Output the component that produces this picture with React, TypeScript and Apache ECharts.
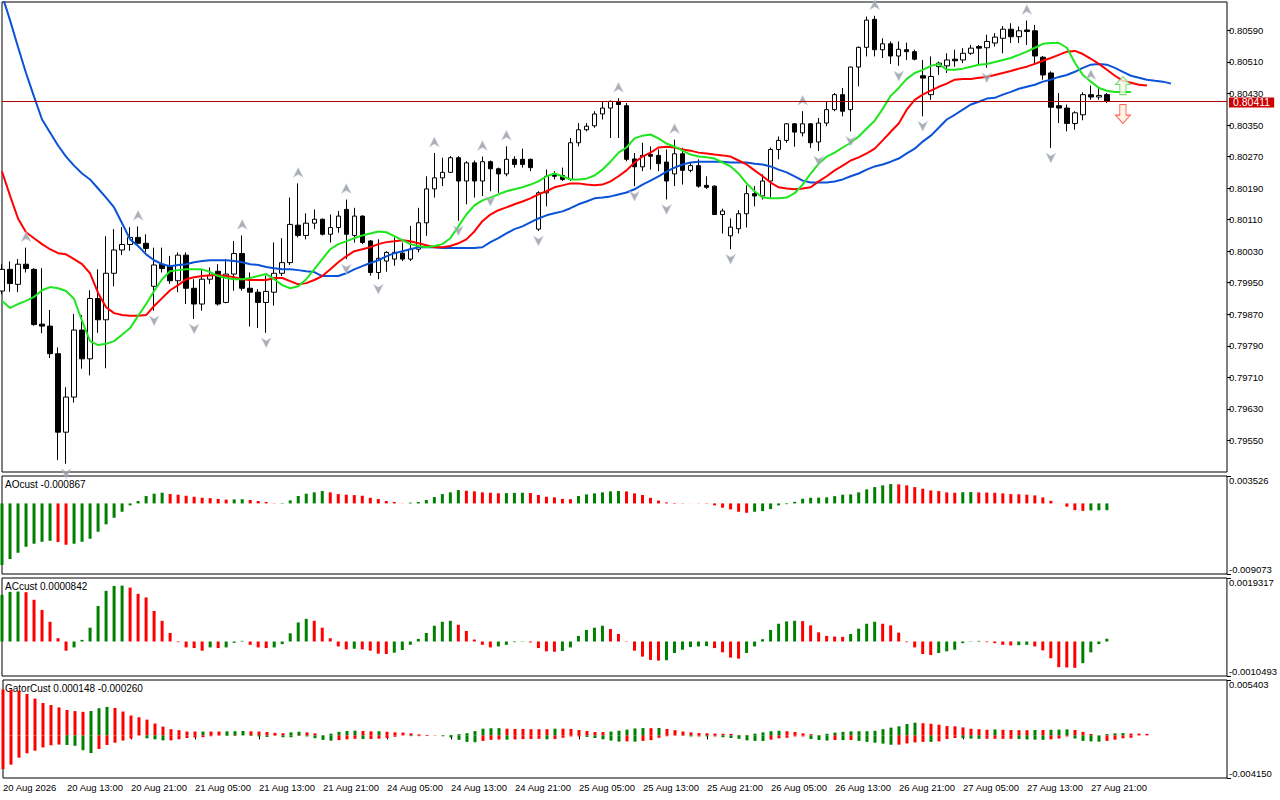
import React, { useEffect, useRef } from "react";
import * as echarts from "echarts";

const FONT = "Liberation Sans, Arial, sans-serif";

// ---- x axis ----
const barDays = ["20", "21", "24", "25", "26", "27", "28"];
const xTickLabels = [
  "20 Aug 2026", "20 Aug 13:00", "20 Aug 21:00", "21 Aug 05:00", "21 Aug 13:00", "21 Aug 21:00",
  "24 Aug 05:00", "24 Aug 13:00", "24 Aug 21:00", "25 Aug 05:00", "25 Aug 13:00", "25 Aug 21:00",
  "26 Aug 05:00", "26 Aug 13:00", "26 Aug 21:00", "27 Aug 05:00", "27 Aug 13:00", "27 Aug 21:00",
];
const TOTAL_SLOTS = 154;

// ---- price (hourly candles) ----
const opens = [
  0.79929,0.79984,0.79946,0.79997,0.79984,0.79845,0.79840,0.79770,0.79571,0.79660,
  0.79830,0.79757,0.79910,0.79856,0.79974,0.80033,0.80047,0.80065,0.80050,0.79941,
  0.79997,0.79993,0.79955,0.80020,0.79936,0.79896,0.79959,0.79979,0.79900,0.79972,
  0.80024,0.79936,0.79926,0.79900,0.79926,0.79974,0.80001,0.80096,0.80070,0.80101,
  0.80111,0.80073,0.80090,0.80136,0.80070,0.80119,0.80056,0.79976,0.80005,0.80010,
  0.80025,0.80010,0.80035,0.80102,0.80188,0.80216,0.80230,0.80267,0.80208,0.80254,
  0.80208,0.80257,0.80239,0.80226,0.80263,0.80263,0.80263,0.80086,0.80178,0.80225,
  0.80222,0.80212,0.80305,0.80338,0.80348,0.80378,0.80393,0.80410,0.80399,0.80264,
  0.80244,0.80275,0.80273,0.80256,0.80226,0.80277,0.80235,0.80247,0.80197,0.80195,
  0.80123,0.80069,0.80087,0.80125,0.80176,0.80170,0.80208,0.80288,0.80311,0.80353,
  0.80330,0.80353,0.80307,0.80355,0.80389,0.80427,0.80389,0.80497,0.80547,0.80618,
  0.80541,0.80556,0.80525,0.80541,0.80536,0.80475,0.80427,0.80498,0.80500,0.80517,
  0.80515,0.80532,0.80549,0.80546,0.80558,0.80570,0.80593,0.80574,0.80591,0.80589,
  0.80522,0.80482,0.80399,0.80393,0.80354,0.80376,0.80427,0.80421,0.80427,
];
const closes = [
  0.79984,0.79948,0.79997,0.79986,0.79844,0.79840,0.79770,0.79571,0.79660,0.79830,
  0.79757,0.79910,0.79856,0.79974,0.80033,0.80047,0.80065,0.80050,0.80037,0.79995,
  0.79986,0.79955,0.80020,0.79936,0.79896,0.79959,0.79968,0.79896,0.79972,0.80024,
  0.79936,0.79926,0.79900,0.79928,0.79974,0.80001,0.80098,0.80070,0.80101,0.80111,
  0.80073,0.80090,0.80119,0.80073,0.80119,0.80052,0.79976,0.80012,0.80027,0.80027,
  0.80010,0.80035,0.80102,0.80188,0.80216,0.80230,0.80267,0.80208,0.80254,0.80208,
  0.80257,0.80239,0.80226,0.80263,0.80250,0.80250,0.80242,0.80178,0.80220,0.80220,
  0.80212,0.80305,0.80338,0.80347,0.80378,0.80393,0.80410,0.80402,0.80263,0.80244,
  0.80273,0.80271,0.80252,0.80208,0.80277,0.80235,0.80247,0.80195,0.80192,0.80123,
  0.80132,0.80091,0.80125,0.80176,0.80170,0.80208,0.80288,0.80311,0.80353,0.80332,
  0.80353,0.80305,0.80355,0.80389,0.80427,0.80385,0.80497,0.80547,0.80616,0.80541,
  0.80556,0.80525,0.80542,0.80536,0.80517,0.80469,0.80473,0.80507,0.80515,0.80513,
  0.80532,0.80545,0.80545,0.80562,0.80573,0.80593,0.80574,0.80589,0.80587,0.80525,
  0.80477,0.80395,0.80393,0.80354,0.80381,0.80427,0.80421,0.80425,0.80411,
];
const lows = [
  0.79921,0.79927,0.79926,0.79976,0.79841,0.79822,0.79759,0.79500,0.79491,0.79646,
  0.79732,0.79715,0.79823,0.79733,0.79941,0.80020,0.80031,0.80048,0.80027,0.79879,
  0.79976,0.79947,0.79926,0.79896,0.79858,0.79879,0.79947,0.79892,0.79898,0.79930,
  0.79930,0.79839,0.79835,0.79823,0.79892,0.79967,0.79995,0.80065,0.80060,0.80086,
  0.80070,0.80052,0.80077,0.80010,0.80052,0.80048,0.79968,0.79959,0.79978,0.79993,
  0.80005,0.80005,0.80027,0.80069,0.80166,0.80195,0.80229,0.80107,0.80149,0.80166,
  0.80170,0.80182,0.80178,0.80220,0.80242,0.80242,0.80233,0.80081,0.80144,0.80212,
  0.80208,0.80208,0.80296,0.80334,0.80343,0.80364,0.80317,0.80317,0.80258,0.80195,
  0.80233,0.80237,0.80233,0.80161,0.80195,0.80199,0.80230,0.80191,0.80188,0.80123,
  0.80075,0.80035,0.80075,0.80090,0.80144,0.80161,0.80166,0.80263,0.80305,0.80295,
  0.80321,0.80292,0.80284,0.80347,0.80385,0.80372,0.80334,0.80448,0.80524,0.80524,
  0.80520,0.80505,0.80500,0.80515,0.80514,0.80372,0.80414,0.80477,0.80482,0.80498,
  0.80507,0.80528,0.80503,0.80495,0.80549,0.80532,0.80558,0.80558,0.80553,0.80503,
  0.80465,0.80292,0.80355,0.80334,0.80338,0.80362,0.80414,0.80414,0.80406,
];
const highs = [
  0.79997,0.80004,0.80010,0.80039,0.79987,0.79987,0.79881,0.79786,0.79685,0.79871,
  0.79868,0.79931,0.79984,0.80068,0.80086,0.80091,0.80091,0.80093,0.80073,0.80039,
  0.80039,0.80018,0.80027,0.80027,0.79959,0.79984,0.79989,0.79997,0.80010,0.80056,
  0.80070,0.79976,0.79934,0.79968,0.80052,0.80063,0.80166,0.80202,0.80126,0.80136,
  0.80113,0.80123,0.80132,0.80161,0.80140,0.80121,0.80058,0.80060,0.80030,0.80065,
  0.80052,0.80094,0.80140,0.80220,0.80279,0.80267,0.80271,0.80271,0.80258,0.80260,
  0.80270,0.80260,0.80242,0.80296,0.80271,0.80290,0.80265,0.80182,0.80237,0.80233,
  0.80242,0.80317,0.80355,0.80355,0.80385,0.80410,0.80412,0.80418,0.80406,0.80279,
  0.80305,0.80296,0.80288,0.80288,0.80313,0.80292,0.80254,0.80263,0.80220,0.80197,
  0.80138,0.80113,0.80134,0.80197,0.80195,0.80225,0.80293,0.80321,0.80355,0.80355,
  0.80385,0.80355,0.80368,0.80410,0.80431,0.80444,0.80498,0.80549,0.80625,0.80627,
  0.80570,0.80562,0.80562,0.80559,0.80541,0.80515,0.80524,0.80511,0.80532,0.80541,
  0.80545,0.80553,0.80553,0.80579,0.80583,0.80601,0.80608,0.80600,0.80615,0.80604,
  0.80525,0.80486,0.80431,0.80402,0.80385,0.80433,0.80450,0.80444,0.80431,
];

// ---- Alligator (as drawn, already shifted) ----
const jaw = [
  0.80680,0.80616,0.80548,0.80482,0.80422,0.80364,0.80331,0.80298,0.80270,0.80247,
  0.80227,0.80212,0.80189,0.80166,0.80141,0.80101,0.80060,0.80043,0.80022,0.80007,
  0.79997,0.79992,0.79995,0.79997,0.80002,0.80005,0.80007,0.80007,0.80007,0.80005,
  0.80002,0.79997,0.79995,0.79990,0.79987,0.79984,0.79984,0.79982,0.79979,0.79977,
  0.79967,0.79967,0.79967,0.79974,0.79984,0.79992,0.80000,0.80007,0.80017,0.80025,
  0.80030,0.80035,0.80040,0.80040,0.80040,0.80038,0.80038,0.80038,0.80038,0.80038,
  0.80040,0.80053,0.80063,0.80075,0.80086,0.80093,0.80103,0.80113,0.80121,0.80126,
  0.80131,0.80139,0.80149,0.80156,0.80164,0.80166,0.80169,0.80174,0.80179,0.80187,
  0.80199,0.80209,0.80220,0.80232,0.80242,0.80250,0.80255,0.80257,0.80257,0.80257,
  0.80257,0.80255,0.80255,0.80255,0.80252,0.80250,0.80245,0.80237,0.80230,0.80220,
  0.80209,0.80204,0.80204,0.80204,0.80207,0.80212,0.80220,0.80227,0.80237,0.80245,
  0.80250,0.80257,0.80265,0.80278,0.80290,0.80308,0.80323,0.80343,0.80364,0.80376,
  0.80389,0.80402,0.80409,0.80417,0.80419,0.80427,0.80434,0.80442,0.80447,0.80452,
  0.80460,0.80465,0.80472,0.80477,0.80485,0.80495,0.80503,0.80505,0.80503,0.80495,
  0.80485,0.80475,0.80470,0.80465,0.80462,0.80460,0.80455,
];
const teeth = [
  0.80232,0.80171,0.80113,0.80078,0.80063,0.80048,0.80035,0.80025,0.80022,0.80010,
  0.79997,0.79974,0.79924,0.79888,0.79873,0.79868,0.79866,0.79866,0.79868,0.79891,
  0.79911,0.79931,0.79944,0.79959,0.79964,0.79967,0.79969,0.79969,0.79967,0.79964,
  0.79959,0.79957,0.79957,0.79957,0.79962,0.79962,0.79954,0.79946,0.79949,0.79957,
  0.79967,0.79984,0.80002,0.80017,0.80030,0.80035,0.80040,0.80048,0.80053,0.80055,
  0.80058,0.80055,0.80050,0.80045,0.80040,0.80040,0.80043,0.80050,0.80060,0.80080,
  0.80106,0.80123,0.80134,0.80141,0.80149,0.80156,0.80164,0.80174,0.80182,0.80192,
  0.80197,0.80202,0.80202,0.80199,0.80197,0.80199,0.80207,0.80220,0.80235,0.80255,
  0.80270,0.80280,0.80293,0.80295,0.80293,0.80288,0.80285,0.80280,0.80278,0.80275,
  0.80273,0.80270,0.80260,0.80250,0.80235,0.80220,0.80204,0.80192,0.80189,0.80187,
  0.80189,0.80192,0.80207,0.80220,0.80235,0.80247,0.80260,0.80268,0.80278,0.80290,
  0.80311,0.80333,0.80354,0.80389,0.80414,0.80427,0.80437,0.80447,0.80455,0.80465,
  0.80467,0.80467,0.80470,0.80472,0.80477,0.80482,0.80487,0.80493,0.80498,0.80505,
  0.80513,0.80520,0.80528,0.80536,0.80538,0.80530,0.80518,0.80505,0.80490,0.80475,
  0.80462,0.80457,0.80452,0.80450,
];
const lips = [
  0.79904,0.79886,0.79896,0.79904,0.79914,0.79931,0.79939,0.79936,0.79929,0.79909,
  0.79853,0.79802,0.79792,0.79795,0.79802,0.79818,0.79835,0.79866,0.79896,0.79929,
  0.79959,0.79979,0.79982,0.79984,0.79984,0.79984,0.79977,0.79967,0.79962,0.79959,
  0.79959,0.79962,0.79967,0.79972,0.79959,0.79944,0.79936,0.79941,0.79959,0.79984,
  0.80010,0.80035,0.80048,0.80055,0.80063,0.80070,0.80075,0.80080,0.80078,0.80068,
  0.80058,0.80048,0.80043,0.80040,0.80043,0.80048,0.80063,0.80093,0.80123,0.80146,
  0.80159,0.80166,0.80174,0.80182,0.80187,0.80192,0.80199,0.80207,0.80220,0.80227,
  0.80220,0.80212,0.80212,0.80214,0.80222,0.80237,0.80257,0.80280,0.80293,0.80316,
  0.80323,0.80326,0.80316,0.80303,0.80295,0.80285,0.80275,0.80270,0.80268,0.80265,
  0.80255,0.80245,0.80227,0.80202,0.80182,0.80166,0.80164,0.80164,0.80166,0.80177,
  0.80199,0.80227,0.80252,0.80270,0.80280,0.80293,0.80305,0.80321,0.80341,0.80361,
  0.80391,0.80424,0.80444,0.80467,0.80482,0.80490,0.80500,0.80505,0.80490,0.80490,
  0.80493,0.80498,0.80503,0.80505,0.80510,0.80515,0.80520,0.80528,0.80536,0.80546,
  0.80556,0.80558,0.80558,0.80546,0.80508,0.80477,0.80460,0.80444,0.80437,0.80434,
  0.80434,0.80434,
];

const upFractals = [3, 17, 30, 37, 43, 54, 60, 63, 77, 84, 100, 109, 128, 136];
const downFractals = [8, 19, 24, 33, 43, 47, 57, 61, 67, 79, 83, 91, 102, 106, 112, 115, 123, 131];

const lastPrice = 0.80411;
const buySignal = [140, 0.8045];
const sellSignal = [140, 0.80378];

const priceTicks = [
  0.7955, 0.7963, 0.7971, 0.7979, 0.7987, 0.7995, 0.8003,
  0.8011, 0.8019, 0.8027, 0.8035, 0.8043, 0.8051, 0.8059,
];
const priceMin = 0.7947;
const priceMax = 0.80662;

// ---- Awesome oscillator ----
const ao = [
  -0.00792,-0.00715,-0.00634,-0.00557,-0.00518,-0.00493,-0.00480,-0.00496,-0.00531,-0.00518,
  -0.00493,-0.00454,-0.00364,-0.00269,-0.00184,-0.00107,-0.00025,0.00031,0.00095,0.00125,
  0.00138,0.00121,0.00112,0.00099,0.00086,0.00073,0.00068,0.00057,0.00049,0.00052,
  0.00054,0.00044,0.00031,0.00018,-0.00003,0.00005,0.00039,0.00096,0.00125,0.00142,
  0.00159,0.00142,0.00120,0.00112,0.00107,0.00099,0.00073,0.00056,0.00031,0.00018,
  -0.00002,0.00010,0.00018,0.00044,0.00082,0.00120,0.00142,0.00172,0.00163,0.00155,
  0.00142,0.00137,0.00131,0.00133,0.00135,0.00137,0.00134,0.00108,0.00086,0.00078,
  0.00058,0.00055,0.00095,0.00116,0.00129,0.00142,0.00155,0.00160,0.00154,0.00129,
  0.00108,0.00072,0.00036,0.00013,0.00006,0.00003,0.00001,-0.00002,-0.00004,-0.00025,
  -0.00055,-0.00077,-0.00107,-0.00120,-0.00107,-0.00098,-0.00073,-0.00025,-0.00009,0.00021,
  0.00060,0.00073,0.00075,0.00078,0.00094,0.00112,0.00116,0.00142,0.00180,0.00210,
  0.00232,0.00249,0.00245,0.00232,0.00210,0.00189,0.00167,0.00159,0.00142,0.00137,
  0.00144,0.00146,0.00142,0.00140,0.00137,0.00129,0.00120,0.00118,0.00112,0.00103,
  0.00077,0.00034,0.00001,-0.00042,-0.00086,-0.00095,-0.00090,-0.00088,-0.000867,
];
const aoMax = 0.003526;
const aoMin = -0.009073;

// ---- Accelerator oscillator ----
const ac = [
  0.00142,0.00151,0.00152,0.00150,0.00127,0.00096,0.00060,0.00010,-0.00028,-0.00018,
  0.00005,0.00042,0.00108,0.00154,0.00169,0.00170,0.00164,0.00145,0.00134,0.00093,
  0.00063,0.00026,-0.00002,-0.00018,-0.00020,-0.00028,-0.00018,-0.00020,-0.00018,-0.00004,
  0.00002,-0.00010,-0.00018,-0.00020,-0.00018,-0.00008,0.00025,0.00058,0.00069,0.00063,
  0.00042,0.00010,-0.00015,-0.00024,-0.00022,-0.00024,-0.00028,-0.00037,-0.00038,-0.00034,
  -0.00026,-0.00010,0.00008,0.00026,0.00048,0.00060,0.00063,0.00051,0.00032,0.00006,
  -0.00010,-0.00018,-0.00015,-0.00010,-0.00002,-0.00001,-0.00003,-0.00020,-0.00030,-0.00031,
  -0.00029,-0.00018,0.00017,0.00035,0.00042,0.00048,0.00038,0.00023,0.00001,-0.00028,
  -0.00046,-0.00056,-0.00058,-0.00057,-0.00035,-0.00025,-0.00017,-0.00015,-0.00014,-0.00020,
  -0.00033,-0.00049,-0.00052,-0.00035,-0.00015,0.00007,0.00035,0.00054,0.00061,0.00063,
  0.00062,0.00049,0.00028,0.00017,0.00015,0.00014,0.00023,0.00039,0.00054,0.00060,
  0.00054,0.00049,0.00027,-0.00002,-0.00018,-0.00038,-0.00041,-0.00035,-0.00030,-0.00025,
  -0.00005,0.00001,0.00002,-0.00002,-0.00005,-0.00010,-0.00012,-0.00011,-0.00010,-0.00015,
  -0.00027,-0.00051,-0.00078,-0.00079,-0.00080,-0.00066,-0.00033,-0.00008,0.0000842,
];
const acMax = 0.0019317;
const acMin = -0.0010493;

const gatorMax = 0.005403;
const gatorMin = -0.00415;

const aoHeader = "AOcust -0.000867";
const acHeader = "ACcust 0.0000842";
const gatorHeader = "GatorCust 0.000148 -0.000260";

const GREEN = "#008000";
const RED = "#ff0000";

function buildOption() {
  const pad = (n: number) => (n < 10 ? "0" + n : String(n));
  const categories = Array.from({ length: TOTAL_SLOTS }, (_, i) => {
    const h = 5 + i;
    return `${barDays[Math.floor(h / 24)]} Aug ${pad(h % 24)}:00`;
  });
  const candles = opens.map((o, i) => [o, closes[i], lows[i], highs[i]]);

  const byDirection = (vals: number[]) =>
    vals.map((v, i) => ({
      value: v,
      itemStyle: { color: i === 0 || v > vals[i - 1] ? GREEN : RED },
    }));
  const byMagnitude = (vals: number[]) =>
    vals.map((v, i) => ({
      value: v,
      itemStyle: { color: i > 0 && Math.abs(v) > Math.abs(vals[i - 1]) ? GREEN : RED },
    }));

  const gatorUp = teeth.map((t, i) => Math.abs(jaw[i] - t));
  const gatorDown = lips.map((l, i) => -Math.abs(teeth[i] - l));

  const grids = [
    { top: 2, height: 470 },
    { top: 476, height: 98 },
    { top: 578, height: 98 },
    { top: 680, height: 98 },
  ].map((g) => ({
    left: 2,
    width: 1225,
    top: g.top,
    height: g.height,
    show: true,
    borderColor: "#000",
    borderWidth: 1,
    backgroundColor: "#fff",
    containLabel: false,
  }));

  const tickShown = (i: number) => i % 8 === 0 && i <= 136;
  const xAxes = [0, 1, 2, 3].map((k) => ({
    type: "category",
    gridIndex: k,
    data: categories,
    boundaryGap: false,
    show: k === 3,
    axisLine: { show: false },
    axisTick: {
      show: k === 3,
      interval: (i: number) => tickShown(i),
      length: 4,
      lineStyle: { color: "#000" },
    },
    axisLabel: {
      show: k === 3,
      interval: (i: number) => tickShown(i),
      formatter: (_v: string, i: number) => (tickShown(i) ? xTickLabels[i / 8] : ""),
      align: "left",
      margin: 4,
      fontSize: 9.5,
      color: "#000",
      fontFamily: FONT,
    },
    splitLine: { show: false },
  }));

  const labelBase = { fontSize: 9.5, lineHeight: 9, color: "#000", fontFamily: FONT, margin: 2 };
  const tickBase = { show: true, length: 4, lineStyle: { color: "#000" } };
  const subAxis = (grid: number, min: number, max: number, val: number, digits: number, va: string) => ({
    type: "value",
    gridIndex: grid,
    position: "right",
    min,
    max,
    axisLine: { show: false },
    splitLine: { show: false },
    axisTick: { ...tickBase, customValues: [val] },
    axisLabel: {
      ...labelBase,
      customValues: [val],
      verticalAlign: va,
      formatter: (v: number) => v.toFixed(digits),
    },
  });

  const yAxes = [
    {
      type: "value",
      gridIndex: 0,
      position: "right",
      min: priceMin,
      max: priceMax,
      axisLine: { show: false },
      splitLine: { show: false },
      axisTick: { ...tickBase, customValues: priceTicks },
      axisLabel: { ...labelBase, customValues: priceTicks, formatter: (v: number) => v.toFixed(5) },
    },
    subAxis(1, aoMin, aoMax, aoMax, 6, "top"),
    subAxis(1, aoMin, aoMax, aoMin, 6, "bottom"),
    subAxis(2, acMin, acMax, acMax, 7, "top"),
    subAxis(2, acMin, acMax, acMin, 7, "bottom"),
    subAxis(3, gatorMin, gatorMax, gatorMax, 6, "top"),
    subAxis(3, gatorMin, gatorMax, gatorMin, 6, "bottom"),
  ];

  const lineSeries = (data: number[], color: string) => ({
    type: "line",
    xAxisIndex: 0,
    yAxisIndex: 0,
    data,
    symbol: "none",
    showSymbol: false,
    smooth: false,
    lineStyle: { color, width: 2 },
    z: 3,
  });

  const fractalStyle = { color: "#959ba5", borderColor: "#d4dae4", borderWidth: 0.6 };

  return {
    animation: false,
    backgroundColor: "#fff",
    textStyle: { fontFamily: FONT },
    grid: grids,
    xAxis: xAxes,
    yAxis: yAxes,
    graphic: [
      { type: "text", left: 5, top: 479, style: { text: aoHeader, fontSize: 10, fontFamily: FONT, fill: "#000" } },
      { type: "text", left: 5, top: 581, style: { text: acHeader, fontSize: 10, fontFamily: FONT, fill: "#000" } },
      { type: "text", left: 5, top: 683, style: { text: gatorHeader, fontSize: 10, fontFamily: FONT, fill: "#000" } },
    ],
    series: [
      {
        type: "candlestick",
        xAxisIndex: 0,
        yAxisIndex: 0,
        data: candles,
        barWidth: 5,
        itemStyle: {
          color: "#ffffff",
          color0: "#000000",
          borderColor: "#000000",
          borderColor0: "#000000",
          borderWidth: 1,
        },
        z: 2,
      },
      {
        type: "line",
        name: "price level",
        xAxisIndex: 0,
        yAxisIndex: 0,
        data: [],
        symbol: "none",
        z: 2,
        markLine: {
          silent: true,
          symbol: ["none", "none"],
          animation: false,
          data: [
            [
              { coord: [0, lastPrice] },
              { coord: [TOTAL_SLOTS - 1, lastPrice] },
            ],
          ],
          lineStyle: { color: "#b00000", width: 1, type: "solid" },
          label: {
            show: true,
            position: "end",
            distance: 2,
            offset: [0, 1.5],
            formatter: lastPrice.toFixed(5),
            color: "#fff",
            backgroundColor: "#cc0000",
            padding: [1, 4, 0, 4],
            lineHeight: 9,
            fontSize: 10.5,
            fontFamily: FONT,
          },
        },
      },
      lineSeries(jaw, "#0a52d6"),
      lineSeries(teeth, "#ff0000"),
      lineSeries(lips, "#1ee61e"),
      {
        type: "scatter",
        xAxisIndex: 0,
        yAxisIndex: 0,
        data: upFractals.map((i) => [i, highs[i]]),
        symbol: "path://M5 0 L10 10 L5 7 L0 10 Z",
        symbolSize: [10, 10],
        symbolOffset: [0, -11],
        itemStyle: fractalStyle,
        z: 4,
      },
      {
        type: "scatter",
        xAxisIndex: 0,
        yAxisIndex: 0,
        data: downFractals.map((i) => [i, lows[i]]),
        symbol: "path://M0 0 L5 3 L10 0 L5 10 Z",
        symbolSize: [10, 10],
        symbolOffset: [0, 10],
        itemStyle: fractalStyle,
        z: 4,
      },
      {
        type: "scatter",
        xAxisIndex: 0,
        yAxisIndex: 0,
        data: [buySignal],
        symbol: "path://M6 0 L12 7 L8.5 7 L8.5 16 L3.5 16 L3.5 7 L0 7 Z",
        symbolSize: [15, 18],
        itemStyle: { color: "#f3fbe4", borderColor: "#58cc58", borderWidth: 1 },
        z: 5,
      },
      {
        type: "scatter",
        xAxisIndex: 0,
        yAxisIndex: 0,
        data: [sellSignal],
        symbol: "path://M3.5 0 L8.5 0 L8.5 9 L12 9 L6 16 L0 9 L3.5 9 Z",
        symbolSize: [15, 19],
        itemStyle: { color: "#fff0dc", borderColor: "#ff3a3a", borderWidth: 1 },
        z: 5,
      },
      {
        type: "bar",
        xAxisIndex: 1,
        yAxisIndex: 1,
        data: byDirection(ao),
        barWidth: 3,
      },
      {
        type: "bar",
        xAxisIndex: 2,
        yAxisIndex: 3,
        data: byDirection(ac),
        barWidth: 3,
      },
      {
        type: "bar",
        xAxisIndex: 3,
        yAxisIndex: 5,
        data: byMagnitude(gatorUp),
        barWidth: 3,
        barGap: "-100%",
      },
      {
        type: "bar",
        xAxisIndex: 3,
        yAxisIndex: 5,
        data: byMagnitude(gatorDown),
        barWidth: 3,
        barGap: "-100%",
      },
    ],
  };
}

export default function App() {
  const ref = useRef<HTMLDivElement>(null);
  useEffect(() => {
    document.body.style.margin = "0";
    const chart = echarts.init(ref.current as HTMLDivElement, undefined, { renderer: "svg" });
    chart.setOption(buildOption() as any);
    return () => chart.dispose();
  }, []);
  return (
    <div
      ref={ref}
      style={{ position: "fixed", left: 0, top: 0, width: 1280, height: 800, background: "#fff" }}
    />
  );
}
